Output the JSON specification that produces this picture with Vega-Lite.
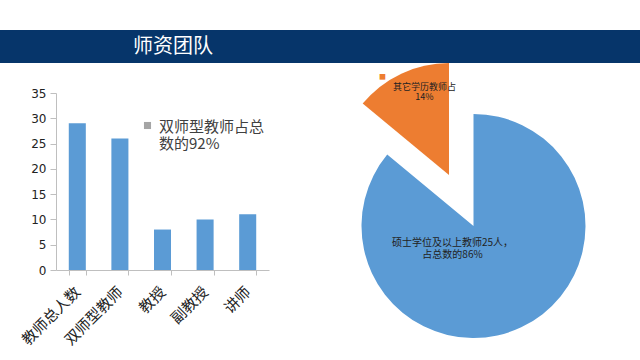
{
  "$schema": "https://vega.github.io/schema/vega-lite/v6.json",
  "padding": {"top": 30, "left": 0, "right": 0, "bottom": 0},
  "background": "white",
  "bounds": "flush",
  "spacing": 30,
  "config": {"view": {"stroke": null}, "font": "Noto Sans CJK SC"},
  "resolve": {"scale": {"color": "independent", "opacity": "independent"}, "legend": {"color": "independent"}},
  "vconcat": [
    {
      "width": 640,
      "height": 33,
      "view": {"fill": "#06356a", "stroke": null},
      "data": {"values": [{"标题": "师资团队"}]},
      "mark": {"type": "text", "align": "left", "baseline": "middle", "dx": -187, "fontSize": 20, "color": "white", "font": "Noto Sans CJK SC"},
      "encoding": {"text": {"field": "标题", "type": "nominal"}}
    },
    {
      "bounds": "flush",
      "spacing": 40,
      "resolve": {"scale": {"color": "independent", "opacity": "independent"}, "legend": {"color": "independent"}},
      "hconcat": [
        {
          "width": 16,
          "height": 10,
          "data": {"values": [{}]},
          "mark": {"type": "text"},
          "encoding": {"text": {"value": ""}}
        },
        {
          "width": 213,
          "height": 177,
          "data": {"values": [
            {"类别": "教师总人数", "人数": 29},
            {"类别": "双师型教师", "人数": 26},
            {"类别": "教授", "人数": 8},
            {"类别": "副教授", "人数": 10},
            {"类别": "讲师", "人数": 11}
          ]},
          "encoding": {
            "x": {
              "field": "类别", "type": "nominal", "sort": null,
              "scale": {"paddingInner": 0.6, "paddingOuter": 0.3},
              "axis": {"title": null, "labelAngle": -45, "labelAlign": "right", "labelBaseline": "middle", "labelFont": "Noto Sans CJK SC", "labelFontSize": 15, "labelColor": "#222222", "labelPadding": 14, "domainColor": "#bfbfbf", "tickColor": "#bfbfbf", "tickBand": "extent", "tickSize": 5}
            },
            "y": {
              "field": "人数", "type": "quantitative",
              "scale": {"domain": [0, 35], "nice": false},
              "axis": {"title": null, "values": [0, 5, 10, 15, 20, 25, 30, 35], "grid": false, "labelFont": "DejaVu Sans", "labelFontSize": 12, "labelColor": "#222222", "labelPadding": 4, "domainColor": "#bfbfbf", "tickColor": "#bfbfbf", "tickSize": 6}
            }
          },
          "layer": [
            {"mark": {"type": "bar", "color": "#5b9bd5"}},
            {
              "transform": [{"filter": "false"}],
              "mark": {"type": "square", "filled": true, "opacity": 1},
              "encoding": {
                "color": {
                  "datum": "双师型教师占总数的92%", "type": "nominal",
                  "scale": {"range": ["#a5a5a5"]},
                  "legend": {
                    "title": null, "orient": "none", "legendX": 84, "legendY": 25, "padding": 0,
                    "symbolType": "square", "symbolSize": 50, "symbolStrokeWidth": 0, "symbolOpacity": 1,
                    "labelFont": "Noto Sans CJK SC", "labelFontSize": 15, "labelColor": "#404040", "labelLimit": 300, "labelOffset": 4,
                    "labelExpr": "['\u00a0双师型教师占总', '数的92%']",
                    "encode": {
                      "labels": {"update": {"dy": {"value": 1.5}, "lineHeight": {"value": 17}}}
                    }
                  }
                }
              }
            }
          ]
        },
        {
          "width": 329,
          "height": 266,
          "data": {"values": [
            {"类别": "硕士学位及以上", "占比": 86, "标签": "硕士学位及以上教师25人，\n占总数的86%"},
            {"类别": "其它学历", "占比": 14, "标签": "其它学历教师占\n14%"}
          ]},
          "encoding": {
            "theta": {"field": "占比", "type": "quantitative", "stack": true},
            "order": {"field": "占比", "sort": "descending"},
            "detail": {"field": "类别", "type": "nominal"}
          },
          "layer": [
            {
              "mark": {"type": "arc", "outerRadius": 112},
              "encoding": {
                "color": {"field": "类别", "type": "nominal", "scale": {"domain": ["硕士学位及以上", "其它学历"], "range": ["#5b9bd5", "#ed7d31"]}, "legend": null},
                "opacity": {"condition": {"test": "datum['类别'] == '其它学历'", "value": 0}, "value": 1}
              }
            },
            {
              "mark": {"type": "arc", "outerRadius": 112, "xOffset": -24.5, "yOffset": -51},
              "encoding": {
                "color": {"field": "类别", "type": "nominal", "scale": {"domain": ["硕士学位及以上", "其它学历"], "range": ["#5b9bd5", "#ed7d31"]}, "legend": null},
                "opacity": {"condition": {"test": "datum['类别'] == '其它学历'", "value": 1}, "value": 0}
              }
            },
            {
              "mark": {"type": "text", "radius": 0, "dx": -21, "dy": 17, "fontSize": 10, "lineBreak": "\n", "color": "#222222"},
              "encoding": {
                "text": {"condition": {"test": "datum['类别'] == '硕士学位及以上'", "field": "标签", "type": "nominal"}, "value": ""}
              }
            },
            {
              "mark": {"type": "text", "radius": 93, "xOffset": -24.5, "yOffset": -51, "dx": 15, "dy": -4, "fontSize": 9, "lineBreak": "\n", "lineHeight": 10.5, "color": "#222222"},
              "encoding": {
                "text": {"condition": {"test": "datum['类别'] == '其它学历'", "field": "标签", "type": "nominal"}, "value": ""}
              }
            },
            {
              "mark": {"type": "text", "radius": 93, "xOffset": -24.5, "yOffset": -51, "dx": -27, "dy": -14, "fontSize": 7, "color": "#ed7d31"},
              "encoding": {
                "text": {"condition": {"test": "datum['类别'] == '其它学历'", "value": "■"}, "value": ""}
              }
            }
          ]
        }
      ]
    }
  ]
}
